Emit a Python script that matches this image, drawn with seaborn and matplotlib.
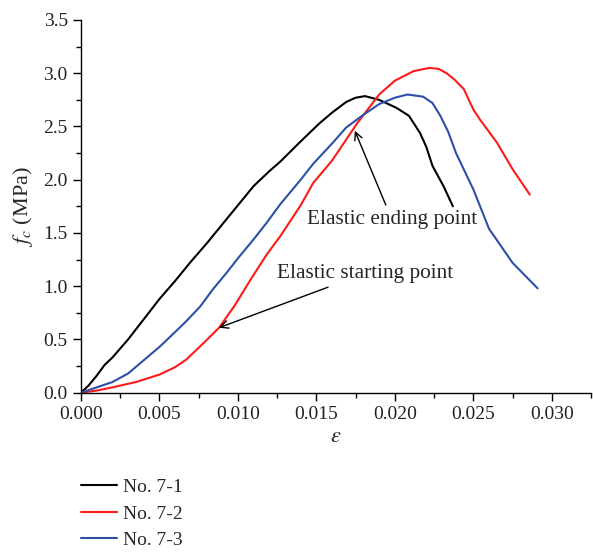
import numpy as np
import pandas as pd
import matplotlib
matplotlib.use("Agg")
import matplotlib.pyplot as plt
import matplotlib.ticker as mticker
import seaborn as sns

# ── Data (strain, stress in MPa) ─────────────────────────────────
eps_71 = [0.0, 0.0005, 0.0010, 0.0015, 0.0020, 0.0030, 0.0040, 0.0050, 0.0060,
          0.0070, 0.0080, 0.0090, 0.0100, 0.0110, 0.0120, 0.0127, 0.0140,
          0.0152, 0.0160, 0.0169, 0.0175, 0.0181, 0.0190, 0.0201, 0.0209,
          0.0216, 0.0220, 0.0224, 0.0231, 0.0237]
fc_71 = [0.0, 0.07, 0.16, 0.26, 0.33, 0.50, 0.69, 0.88, 1.05,
         1.23, 1.40, 1.58, 1.76, 1.94, 2.08, 2.17, 2.36,
         2.53, 2.63, 2.73, 2.77, 2.785, 2.75, 2.675, 2.60,
         2.44, 2.31, 2.13, 1.94, 1.75]

eps_72 = [0.0, 0.0010, 0.0020, 0.0035, 0.0050, 0.0060, 0.0067, 0.0077, 0.0088,
          0.0098, 0.0108, 0.0118, 0.0127, 0.0140, 0.0148, 0.0160, 0.0176,
          0.0190, 0.0200, 0.0212, 0.0222, 0.0228, 0.0233, 0.0238, 0.0244,
          0.0250, 0.0254, 0.0265, 0.0275, 0.0286]
fc_72 = [0.0, 0.02, 0.05, 0.10, 0.17, 0.24, 0.31, 0.45, 0.61,
         0.82, 1.06, 1.29, 1.47, 1.76, 1.97, 2.18, 2.53,
         2.80, 2.93, 3.02, 3.05, 3.04, 3.00, 2.94, 2.85,
         2.66, 2.57, 2.35, 2.10, 1.86]

eps_73 = [0.0, 0.0010, 0.0020, 0.0030, 0.0038, 0.0050, 0.0060, 0.0067, 0.0076,
          0.0084, 0.0093, 0.0101, 0.0110, 0.0118, 0.0127, 0.0140, 0.0148,
          0.0160, 0.0169, 0.0180, 0.0190, 0.0200, 0.0208, 0.0218, 0.0224,
          0.0229, 0.0234, 0.0239, 0.0250, 0.0260, 0.0275, 0.0291]
fc_73 = [0.0, 0.05, 0.10, 0.18, 0.28, 0.43, 0.57, 0.67, 0.81,
         0.97, 1.13, 1.28, 1.44, 1.59, 1.77, 2.00, 2.15,
         2.34, 2.49, 2.61, 2.71, 2.77, 2.80, 2.78, 2.72,
         2.60, 2.45, 2.25, 1.91, 1.54, 1.22, 0.98]

labels = ["No. 7-1", "No. 7-2", "No. 7-3"]
colors = ["#000000", "#ff1a1a", "#2e4fa8"]

df = pd.concat([
    pd.DataFrame({"eps": eps_71, "fc": fc_71, "sample": labels[0]}),
    pd.DataFrame({"eps": eps_72, "fc": fc_72, "sample": labels[1]}),
    pd.DataFrame({"eps": eps_73, "fc": fc_73, "sample": labels[2]}),
], ignore_index=True)

sns.set_theme(style="ticks")
plt.rcParams["font.family"] = ["Liberation Serif", "DejaVu Serif"]
plt.rcParams["mathtext.fontset"] = "stix"

fig = plt.figure(figsize=(5.93, 5.52), dpi=100)
ax = fig.add_axes([0.1366, 0.2886, 0.860, 0.6752])

sns.lineplot(data=df, x="eps", y="fc", hue="sample", palette=colors,
             sort=False, estimator=None, linewidth=1.5, ax=ax)

ax.set_xlim(0, 0.0325)
ax.set_ylim(0, 3.5)
ax.xaxis.set_major_locator(mticker.MultipleLocator(0.005))
ax.xaxis.set_minor_locator(mticker.MultipleLocator(0.0025))
ax.yaxis.set_major_locator(mticker.MultipleLocator(0.5))
ax.yaxis.set_minor_locator(mticker.MultipleLocator(0.25))
ax.xaxis.set_major_formatter(mticker.FormatStrFormatter("%.3f"))
ax.yaxis.set_major_formatter(mticker.FormatStrFormatter("%.1f"))
ax.set_xticks([0.0, 0.005, 0.01, 0.015, 0.02, 0.025, 0.03])
ax.tick_params(axis="both", which="major", direction="out", length=6,
               width=1.0, labelsize=14, color="black", labelcolor="#222222")
ax.tick_params(axis="both", which="minor", direction="out", length=3.5,
               width=1.0, color="black")
for s in ["left", "bottom"]:
    ax.spines[s].set_color("black")
    ax.spines[s].set_linewidth(1.0)
sns.despine(ax=ax)

ax.set_xlabel(r"$\varepsilon$", fontsize=16, labelpad=4)
ax.set_ylabel(r"$f_c$ (MPa)", fontsize=16, labelpad=6)

# ── Annotations ──────────────────────────────────────────────────
ax.annotate("Elastic ending point", xy=(0.01745, 2.46), xytext=(0.0198, 1.63),
            ha="center", va="center", fontsize=15.3,
            arrowprops=dict(arrowstyle="->", color="black", lw=1.0,
                            shrinkA=1, shrinkB=0, mutation_scale=14))
ax.annotate("Elastic starting point", xy=(0.00879, 0.61), xytext=(0.0181, 1.12),
            ha="center", va="center", fontsize=15.3,
            arrowprops=dict(arrowstyle="->", color="black", lw=1.0,
                            shrinkA=2, shrinkB=0, mutation_scale=14))

# ── Legend below the axes ────────────────────────────────────────
handles, lbls = ax.get_legend_handles_labels()
ax.legend(handles, lbls, loc="upper left", bbox_to_anchor=(0.137, 0.133),
          bbox_transform=fig.transFigure, frameon=False, fontsize=14,
          handlelength=1.85, handletextpad=0.3, labelspacing=0.45,
          borderaxespad=0, borderpad=0)

fig.savefig("out.png", dpi=100)
